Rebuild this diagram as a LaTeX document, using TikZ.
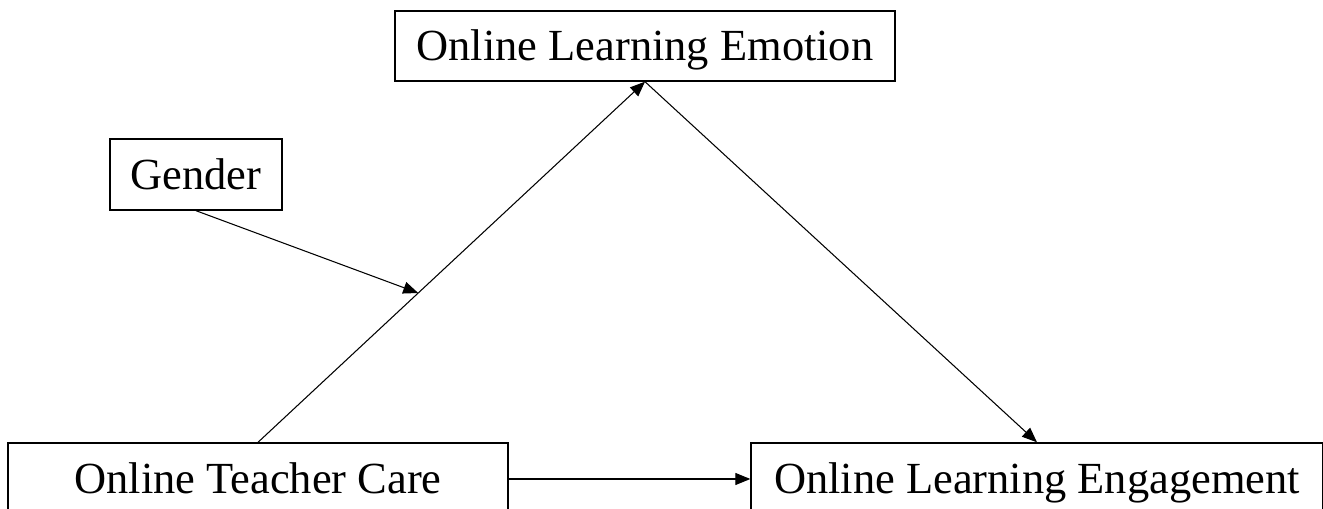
\documentclass[tikz,border=0pt]{standalone}
\usepackage{fontspec}
\setmainfont{Liberation Serif}
\usepackage{tikz}
\usetikzlibrary{arrows.meta}

\begin{document}
\begin{tikzpicture}[x=0.02cm,y=-0.02cm,
  box/.style={draw,line width=0.8pt,inner sep=0pt,text height=16.7pt,text depth=0pt,font=\fontsize{25.3}{30}\selectfont},
  link/.style={-{Triangle[length=0.3cm,width=0.24cm]},line width=0.6pt}]
  \useasboundingbox (0,0) rectangle (1323,509);
  \node[box,minimum width=10cm,minimum height=1.4cm] (emotion) at (645,46) {Online Learning Emotion};
  \node[box,minimum width=3.44cm,minimum height=1.42cm] (gender) at (196,174.5) {Gender};
  \node[box,minimum width=10cm,minimum height=1.44cm] (care) at (258,479) {Online Teacher Care};
  \node[box,minimum width=11.44cm,minimum height=1.44cm] (engage) at (1037,479) {Online Learning Engagement};
  \draw[link] (care.north) -- (emotion.south) coordinate[pos=0.414] (mod);
  \draw[link] (emotion.south) -- (engage.north);
  \draw[link] (care.east) -- (engage.west);
  \draw[link] (gender.south) -- (mod);
\end{tikzpicture}
\end{document}
